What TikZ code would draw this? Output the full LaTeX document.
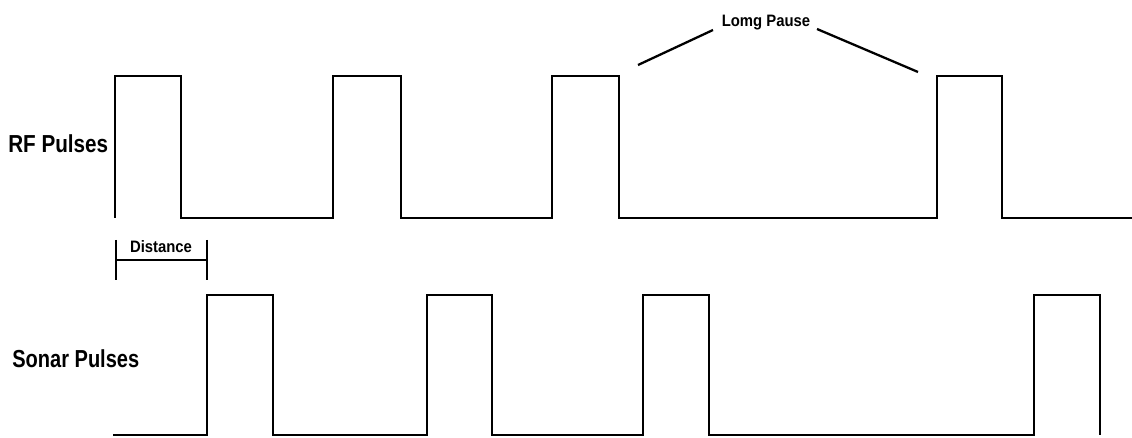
\documentclass[tikz,border=0pt]{standalone}
\usepackage{fontspec}
\setmainfont{Liberation Sans}
\usetikzlibrary{calc,positioning}
\definecolor{ink}{HTML}{000000}

\begin{document}
\begin{tikzpicture}[x=0.02cm,y=-0.02cm,
    wave/.style={ink,line width=1.6pt,line join=miter},
    thin wave/.style={ink,line width=1.3pt},
    biglabel/.style={font=\fontsize{14}{16}\selectfont\bfseries,xscale=0.84,inner sep=0pt},
    smalllabel/.style={font=\fontsize{9.4}{11}\selectfont\bfseries,xscale=0.9,inner sep=0pt}]
        \useasboundingbox (0,0) rectangle (1132,438);
        % labels
        \node[biglabel,anchor=west] (rf) at (8,144) {RF Pulses};
        \node[biglabel,anchor=west,xscale=0.97] (sonar) at (12,359) {Sonar Pulses};
        \node[smalllabel] (dist) at (161,247) {Distance};
        \node[smalllabel,anchor=base] (pause) at (766,27) {Lomg Pause};
        % rf pulse train
        \draw[wave] (115,218) foreach \a/\b in {115/181,333/401,552/619,937/1002}{
          -- (\a,218) -- (\a,76) -- (\b,76) -- (\b,218)
        } -- (1132,218);
        % sonar pulse train
        \draw[wave] (113,435) foreach \a/\b in {207/273,427/492,643/709,1034/1100}{
          -- (\a,435) -- (\a,295) -- (\b,295) -- (\b,435)
        };
        % distance marker
        \coordinate (dl) at (116,260);
        \coordinate (dr) at (207,260);
        \draw[thin wave] (dl) -- (dr);
        \draw[thin wave] ($(dl)+(0,-20)$) -- ($(dl)+(0,20)$);
        \draw[thin wave] ($(dr)+(0,-20)$) -- ($(dr)+(0,20)$);
        % long pause
        \coordinate (pl) at (638,65);
        \coordinate (pr) at (918,72);
        \draw[thin wave] (pl) -- (713,30);
        \draw[thin wave] (817,29) -- (pr);
      \end{tikzpicture}
\end{document}
